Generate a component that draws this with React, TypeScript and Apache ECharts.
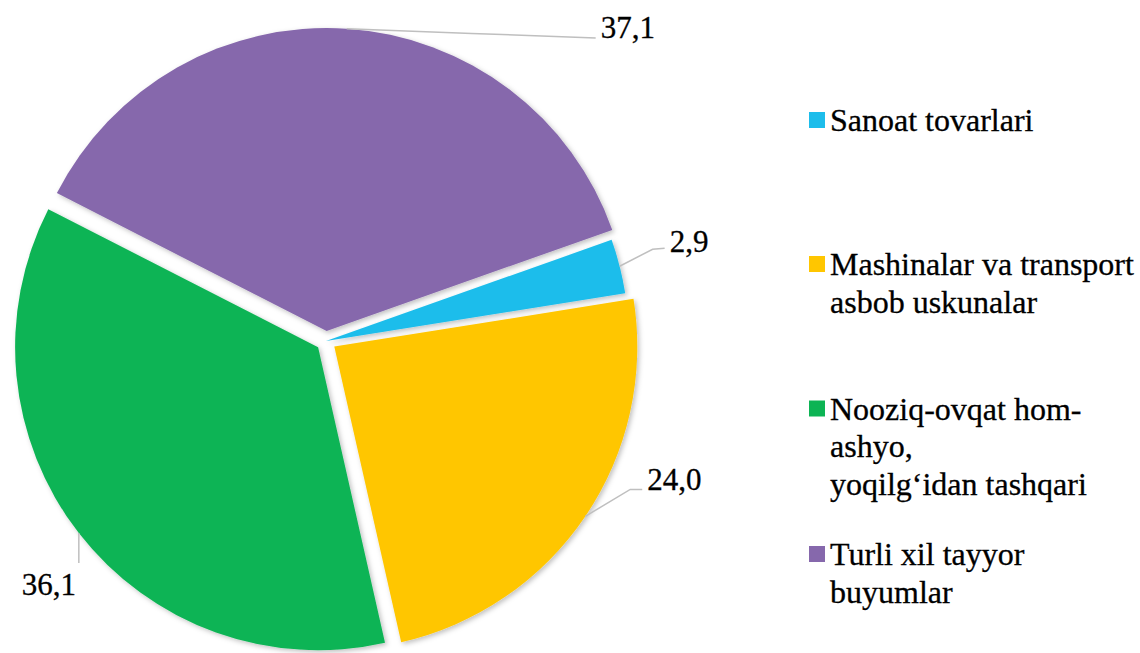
import React, { useEffect, useRef } from 'react';
import * as echarts from 'echarts';

const categories = [
  'Sanoat tovarlari',
  'Mashinalar va transport asbob uskunalar',
  'Nooziq-ovqat hom-ashyo, yoqilg\u2018idan tashqari',
  'Turli xil tayyor buyumlar',
];
const legendLines = [
  ['Sanoat tovarlari'],
  ['Mashinalar va transport', 'asbob uskunalar'],
  ['Nooziq-ovqat hom-', 'ashyo,', 'yoqilg\u2018idan tashqari'],
  ['Turli xil tayyor', 'buyumlar'],
];
const values = [2.9, 24.0, 36.1, 37.1];
const exploded = [false, true, true, true];
const colors = ['#1DBDEB', '#FFC600', '#0CB454', '#8668AC'];

const FONT = "'Liberation Serif', 'Times New Roman', serif";
const LEGEND_FONT = 32;
const LEGEND_LH = 37.5;
const legendIconCenters = [120, 264, 408.5, 554];
const EXPLODE = 10;

// leader line geometry relative to the slice's edge anchor
const leaders = [
  { elbow: [33, -17], end: [45, -18], label: [50, -25], align: 'left' },
  { elbow: [45, -27], end: [57, -27], label: [62, -37], align: 'left' },
  { elbow: [0, 10], end: [0, 30], label: [-30, 51], align: 'center' },
  { elbow: [125, 4.7], end: [249, 9.4], label: [254, -1.6], align: 'left' },
];

export default function App() {
  const ref = useRef<HTMLDivElement>(null);
  useEffect(() => {
    if (!ref.current) return;
    const chart = echarts.init(ref.current, undefined, { renderer: 'svg' });
    const legends = categories.map((name, i) => {
      const n = legendLines[i].length;
      const blank = '\n'.repeat(n - 1);
      return {
        orient: 'vertical',
        left: 809,
        top: legendIconCenters[i] - ((2 * n - 1) * LEGEND_LH) / 2,
        padding: 0,
        itemWidth: 16,
        itemHeight: 16,
        icon: 'rect',
        selectedMode: false,
        data: [{ name, itemStyle: { color: colors[i] } }],
        formatter: () => blank + legendLines[i].join('\n'),
        textStyle: {
          fontFamily: FONT,
          fontSize: LEGEND_FONT,
          lineHeight: LEGEND_LH,
          color: '#000',
          textBorderColor: '#000',
          textBorderWidth: 0.3,
        },
      };
    });
    const common = {
      type: 'pie',
      center: [326, 341],
      radius: 303,
      startAngle: 19.5,
      clockwise: true,
      avoidLabelOverlap: false,
      silent: true,
      emphasis: { disabled: true },
    };
    chart.setOption({
      animation: false,
      color: colors,
      legend: legends,
      series: [
        {
          ...common,
          selectedMode: 'multiple',
          selectedOffset: EXPLODE,
          select: { itemStyle: { borderWidth: 0 } },
          itemStyle: {
            borderWidth: 0,
            shadowBlur: 5,
            shadowOffsetX: 2,
            shadowOffsetY: 2,
            shadowColor: 'rgba(0,0,0,0.25)',
          },
          label: { show: false },
          labelLine: { show: false },
          data: categories.map((name, i) => ({
            name,
            value: values[i],
            selected: exploded[i],
            itemStyle: { color: colors[i] },
          })),
        },
        {
          ...common,
          z: 5,
          selectedMode: false,
          itemStyle: { color: 'rgba(0,0,0,0)', borderWidth: 0 },
          label: {
            show: true,
            position: 'outside',
            fontFamily: FONT,
            fontSize: 31,
            color: '#000',
            textBorderColor: '#000',
            textBorderWidth: 0.3,
            formatter: (p: any) => Number(p.value).toFixed(1).replace('.', ','),
          },
          labelLine: {
            show: true,
            length: 20,
            length2: 20,
            lineStyle: { color: '#BFBFBF', width: 1.5 },
          },
          labelLayout: (p: any) => {
            const pts = p.labelLinePoints;
            if (!pts || pts.length < 2) return {};
            const vx = pts[1][0] - pts[0][0];
            const vy = pts[1][1] - pts[0][1];
            const len = Math.sqrt(vx * vx + vy * vy) || 1;
            const off = exploded[p.dataIndex] ? EXPLODE : 0;
            const x0 = pts[0][0] + (vx / len) * off;
            const y0 = pts[0][1] + (vy / len) * off;
            const L = leaders[p.dataIndex];
            return {
              x: x0 + L.label[0],
              y: y0 + L.label[1],
              align: L.align,
              verticalAlign: 'middle',
              labelLinePoints: [
                [x0, y0],
                [x0 + L.elbow[0], y0 + L.elbow[1]],
                [x0 + L.end[0], y0 + L.end[1]],
              ],
            };
          },
          data: categories.map((name, i) => ({ name, value: values[i] })),
        },
      ],
    });
    return () => chart.dispose();
  }, []);
  return (
    <div
      ref={ref}
      style={{ position: 'fixed', left: 0, top: 0, width: 1140, height: 653, background: '#fff' }}
    />
  );
}
